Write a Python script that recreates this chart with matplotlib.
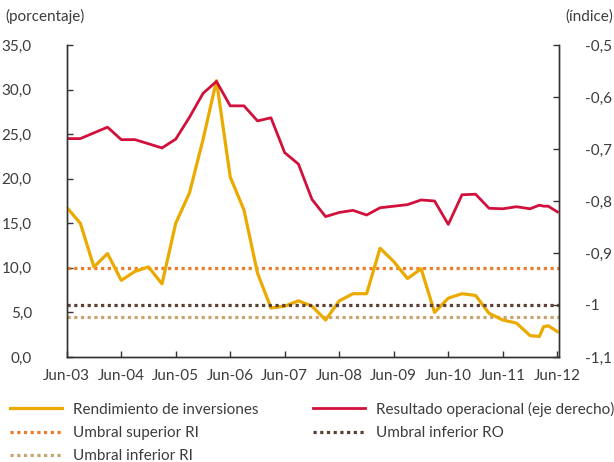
import pandas as pd
import matplotlib
matplotlib.use("Agg")
import matplotlib.pyplot as plt
import matplotlib.dates as mdates

plt.rcParams['font.family'] = ['Lato', 'DejaVu Sans']

# fechas: trimestral hasta dic-11, luego mensual
fechas = ['2003-06', '2003-09', '2003-12', '2004-03', '2004-06', '2004-09', '2004-12',
          '2005-03', '2005-06', '2005-09', '2005-12', '2006-03', '2006-06', '2006-09',
          '2006-12', '2007-03', '2007-06', '2007-09', '2007-12', '2008-03', '2008-06',
          '2008-09', '2008-12', '2009-03', '2009-06', '2009-09', '2009-12', '2010-03',
          '2010-06', '2010-09', '2010-12', '2011-03', '2011-06', '2011-09', '2011-12',
          '2012-02', '2012-03', '2012-04', '2012-06']

# rendimiento de inversiones (%), eje izquierdo
rendimiento = [16.8, 15.0, 10.1, 11.6, 8.6, 9.6, 10.1, 8.2, 15.0, 18.4, 24.4, 31.0,
               20.2, 16.5, 9.4, 5.5, 5.7, 6.3, 5.7, 4.15, 6.3, 7.1, 7.1, 12.2, 10.7,
               8.8, 9.9, 5.0, 6.6, 7.1, 6.9, 4.9, 4.15, 3.8, 2.4, 2.3, 3.4, 3.5, 2.85]

# resultado operacional (indice), eje derecho
resultado = [-0.680, -0.680, -0.669, -0.658, -0.682, -0.682, -0.690, -0.698, -0.681,
             -0.639, -0.593, -0.570, -0.617, -0.617, -0.646, -0.640, -0.707, -0.729,
             -0.797, -0.830, -0.822, -0.818, -0.827, -0.813, -0.810, -0.807, -0.798,
             -0.800, -0.845, -0.788, -0.787, -0.814, -0.815, -0.811, -0.815, -0.808,
             -0.810, -0.810, -0.821]

umbral_sup_ri = 10.0
umbral_inf_ri = 4.5
umbral_inf_ro = -1.0

yticks_izq = [0, 5, 10, 15, 20, 25, 30, 35]
yticks_izq_lab = ['0,0', '5,0', '10,0', '15,0', '20,0', '25,0', '30,0', '35,0']
yticks_der = [-1.1, -1.0, -0.9, -0.8, -0.7, -0.6, -0.5]
yticks_der_lab = ['-1,1', '-1', '-0,9', '-0,8', '-0,7', '-0,6', '-0,5']
xticks_lab = ['Jun-03', 'Jun-04', 'Jun-05', 'Jun-06', 'Jun-07', 'Jun-08', 'Jun-09',
              'Jun-10', 'Jun-11', 'Jun-12']

x = pd.to_datetime(fechas)
xt = pd.to_datetime(['20%s-06' % s[-2:] for s in xticks_lab])

c_amar = '#EAAA00'
c_rojo = '#D2103C'
c_nar = '#EE7D2B'
c_caf = '#5E3F33'
c_tan = '#C9A46F'
c_txt = '#3C3C3C'
fs = 11

fig = plt.figure(figsize=(6.14, 4.62), dpi=100)
ax = fig.add_axes([0.1085, 0.2273, 0.8015, 0.6753])
ax2 = ax.twinx()

l1, = ax.plot(x, rendimiento, color=c_amar, lw=2.3, label='Rendimiento de inversiones', zorder=3)
l2 = ax.axhline(umbral_sup_ri, color=c_nar, lw=2.3, ls=(0, (1, 1.1)), dash_capstyle='butt',
                label='Umbral superior RI')
l3 = ax.axhline(umbral_inf_ri, color=c_tan, lw=2.3, ls=(0, (1, 1.1)), dash_capstyle='butt',
                label='Umbral inferior RI')
l4, = ax2.plot(x, resultado, color=c_rojo, lw=2.0, label='Resultado operacional (eje derecho)')
l5 = ax2.axhline(umbral_inf_ro, color=c_caf, lw=2.3, ls=(0, (1, 1.1)), dash_capstyle='butt',
                 label='Umbral inferior RO')

ax.set_ylim(0, 35)
ax2.set_ylim(-1.1, -0.5)
ax.set_xlim(pd.Timestamp('2003-06-01'), pd.Timestamp('2012-06-10'))

ax.set_yticks(yticks_izq)
ax.set_yticklabels(yticks_izq_lab)
ax2.set_yticks(yticks_der)
ax2.set_yticklabels(yticks_der_lab)
ax.set_xticks(xt)
ax.set_xticklabels(xticks_lab)

for a in (ax, ax2):
    a.spines['top'].set_visible(False)
    for s in ('left', 'right', 'bottom'):
        a.spines[s].set_color('#333333')
        a.spines[s].set_linewidth(1.0)
    a.tick_params(direction='in', length=4, width=1, colors='#333333',
                  labelcolor=c_txt, labelsize=fs)
ax.tick_params(axis='y', pad=25)
ax2.tick_params(axis='y', pad=19)
ax.tick_params(axis='x', pad=9)

fig.text(0.008, 0.965, '(porcentaje)', fontsize=fs, color=c_txt, va='center')
fig.text(0.921, 0.965, '(índice)', fontsize=fs, color=c_txt, va='center')

fig.legend(handles=[l1, l2, l3, l4, l5], ncol=2, loc='upper left',
           bbox_to_anchor=(0.0163, 0.131), frameon=False, fontsize=fs,
           handlelength=3.4, handletextpad=0.7, columnspacing=3.6,
           labelspacing=0.62, borderaxespad=0, borderpad=0,
           labelcolor=c_txt)

fig.savefig('out.png', dpi=100)
